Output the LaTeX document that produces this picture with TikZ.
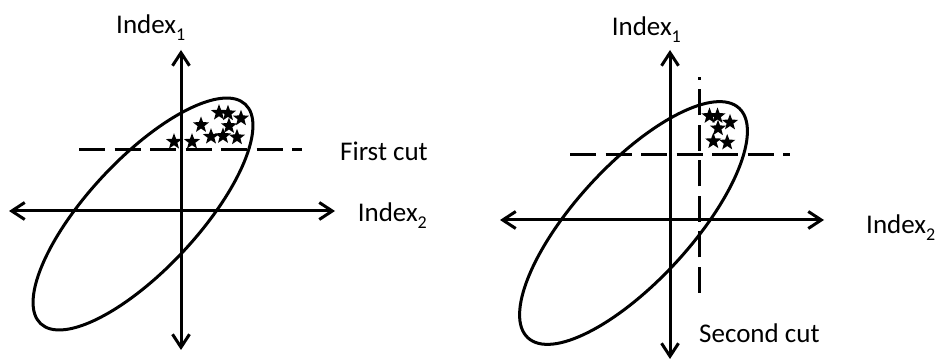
\documentclass[tikz,border=0pt]{standalone}
\usepackage{fontspec}
\setmainfont{Carlito}
\usetikzlibrary{arrows.meta,shapes.geometric}
\newcommand\lowsub[1]{\raisebox{-7pt}{\fontsize{18}{20}\selectfont #1}}
\begin{document}
\begin{tikzpicture}[x=1pt,y=1pt,
    axis/.style={line width=3pt,{Straight Barb[length=13pt,width=17pt]}-{Straight Barb[length=13pt,width=17pt]}},
    cut/.style={line width=3pt,dash pattern=on 26pt off 9.5pt},
    blob/.style={draw,ellipse,line width=3pt,inner sep=0pt},
    hit/.style={star,star points=5,star point ratio=2.4,fill,inner sep=0pt,minimum size=17pt},
    lbl/.style={anchor=base west,inner sep=0pt,font=\fontsize{27}{32}\selectfont}]
  \useasboundingbox (0,0) rectangle (939,361);
  % left panel: first cut
  \node[inner sep=0pt] (O1) at (181,150) {};
  \coordinate (N1) at (181,311);
  \coordinate (S1) at (181,11);
  \coordinate (W1) at (9,150);
  \coordinate (E1) at (335,150);
  \node[blob,rotate=47,minimum width=300pt,minimum height=110pt] (ring1) at (143,147) {};
  \draw[axis] (S1) -- (N1);
  \draw[axis] (W1) -- (E1);
  \coordinate (c1a) at (79,211.7);
  \coordinate (c1b) at (302,211.7);
  \draw[cut] (c1a) -- (c1b);
  \foreach \x/\y [count=\i] in {174/219.3,192/219.3,201/236,211/224.3,219/248.3,228/247.7,241/242.7,229/235,223/225,237/223.7}{
    \node[hit] (s1\i) at (\x,\y) {};
  }
  \node[lbl] (i1a) at (116,327.7) {Index\lowsub{1}};
  \node[lbl] (i2a) at (357.6,139.3) {Index\lowsub{2}};
  \node[lbl] (first) at (340,200) {First cut};
  % right panel: second cut
  \node[inner sep=0pt] (O2) at (670,141) {};
  \coordinate (N2) at (670,311);
  \coordinate (S2) at (670,2);
  \coordinate (W2) at (500,141);
  \coordinate (E2) at (824,141);
  \node[blob,rotate=47.4,minimum width=312pt,minimum height=116pt] (ring2) at (633.5,138) {};
  \draw[axis] (S2) -- (N2);
  \draw[axis] (W2) -- (E2);
  \coordinate (c2a) at (570,206);
  \coordinate (c2b) at (790,206);
  \draw[cut] (c2a) -- (c2b);
  \coordinate (c3a) at (699,68);
  \coordinate (c3b) at (699,284);
  \draw[cut] (c3a) -- (c3b);
  \foreach \x/\y [count=\i] in {709.5/245,717.5/245,730/238.5,718/232.7,713.3/219.8,727.2/218.5}{
    \node[hit] (s2\i) at (\x,\y) {};
  }
  \node[lbl] (i1b) at (611.6,325) {Index\lowsub{1}};
  \node[lbl] (i2b) at (866,127.7) {Index\lowsub{2}};
  \node[lbl] (second) at (699,18.3) {Second cut};
\end{tikzpicture}
\end{document}
